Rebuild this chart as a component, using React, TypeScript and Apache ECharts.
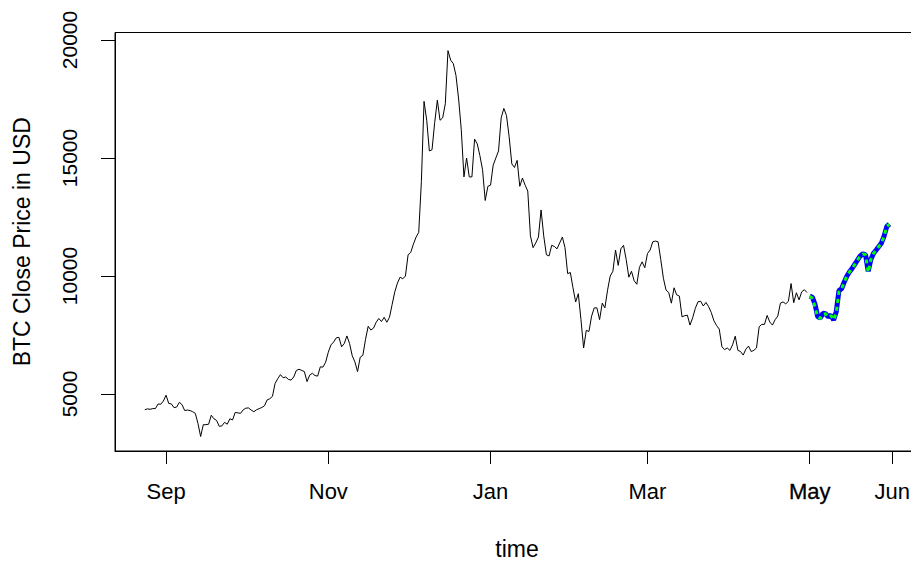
import React, { useEffect, useRef } from "react";
import * as echarts from "echarts";

// Daily BTC close prices (USD), starting 24 Aug 2017
const aug2017 = [4334, 4371, 4352, 4382, 4382, 4579, 4565, 4703];
const sep2017 = [4950, 4600, 4580, 4420, 4450, 4650, 4550, 4300, 4320, 4300, 4250, 4180, 3750, 3200, 3700, 3700, 3720, 4100, 3950, 3880, 3630, 3650, 3800, 3720, 3950, 3900, 4220, 4200, 4180, 4330];
const oct2017 = [4400, 4410, 4320, 4250, 4330, 4380, 4430, 4500, 4750, 4800, 4900, 5450, 5650, 5820, 5690, 5720, 5620, 5590, 5720, 6000, 6050, 6000, 5950, 5526, 5800, 5880, 5780, 5760, 6150, 6140, 6350];
const nov2017 = [6770, 7080, 7200, 7380, 7400, 7000, 7140, 7460, 7140, 6620, 6360, 5950, 6560, 6640, 7320, 7870, 7710, 7790, 8040, 8200, 8070, 8250, 8040, 8250, 8790, 9330, 9700, 9950, 9880, 10000];
const dec2017 = [10900, 11000, 11350, 11650, 11850, 14000, 17400, 16600, 15300, 15350, 16500, 17450, 16600, 16700, 17300, 19550, 19150, 19000, 18500, 17500, 16200, 14200, 15000, 14200, 14200, 15800, 15600, 15100, 14500, 13200, 13800];
const jan2018 = [13850, 14700, 15000, 15300, 16700, 17100, 16800, 15900, 14750, 14600, 14900, 13800, 14150, 13850, 13600, 11700, 11200, 11400, 11650, 12800, 11700, 10900, 10850, 11300, 11250, 11150, 11400, 11650, 11200, 10100, 10150];
const feb2018 = [9500, 8900, 9250, 8150, 6950, 7700, 7650, 8300, 8650, 8650, 8150, 8850, 8650, 9400, 10000, 10200, 11100, 10450, 11150, 11300, 10700, 9950, 10200, 9800, 9650, 10370, 10600, 10350];
const mar2018 = [10950, 11100, 11450, 11480, 11450, 10700, 9900, 9400, 9300, 8850, 9500, 9200, 9150, 8270, 8320, 8340, 7920, 8230, 8630, 8910, 8930, 8730, 8880, 8700, 8450, 8100, 7900, 7750, 7000, 6880, 6950];
const apr2018 = [6850, 7080, 7450, 6850, 6800, 6650, 6900, 7030, 6800, 6850, 6950, 7850, 7950, 7950, 8330, 8050, 7920, 8150, 8300, 8850, 8900, 8820, 8930, 9680, 8870, 9290, 8990, 9330, 9420, 9300];

// May 2018 (two overlaid series)
const mayBlue = [9150, 9100, 8800, 8280, 8220, 8420, 8400, 8270, 8340, 8140, 8500, 9380, 9460, 9750, 10000, 10180, 10330, 10500, 10680, 10850, 10940, 10900, 10200, 10700, 10960, 11100, 11250, 11400, 11700, 12100, 12200];
const mayGreen = [9150, 9050, 8700, 8250, 8200, 8380, 8400, 8250, 8320, 8140, 8450, 9330, 9460, 9750, 10000, 10180, 10330, 10500, 10680, 10850, 10940, 10900, 10150, 10700, 10960, 11100, 11250, 11400, 11700, 12100, 12200];

// Axis ticks (day index from 24 Aug 2017)
const xTickDays = [8, 69, 130, 189, 250, 281];
const xTickLabels = ["Sep", "Nov", "Jan", "Mar", "May", "Jun"];
const yTicks = [5000, 10000, 15000, 20000];

const closeUSD = [
  ...aug2017, ...sep2017, ...oct2017, ...nov2017, ...dec2017,
  ...jan2018, ...feb2018, ...mar2018, ...apr2018,
];

export default function App() {
  const ref = useRef<HTMLDivElement>(null);
  useEffect(() => {
    if (!ref.current) return;
    const chart = echarts.init(ref.current, null, { renderer: "svg" });
    const font = "Liberation Sans, Arial, sans-serif";
    const blackData = closeUSD.map((v, i) => [i, v]);
    const offset = closeUSD.length;
    const blueData = mayBlue.map((v, i) => [offset + i, v]);
    const greenData = mayGreen.map((v, i) => [offset + i, v]);
    chart.setOption({
      animation: false,
      backgroundColor: "#ffffff",
      grid: {
        left: 115,
        top: 32.5,
        width: 804,
        height: 418.5,
        show: true,
        borderColor: "#000",
        borderWidth: 1,
        backgroundColor: "transparent",
        containLabel: false,
        outerBoundsMode: "none",
      },
      xAxis: {
        type: "value",
        min: -11.2,
        max: 291.1,
        splitLine: { show: false },
        axisLine: { show: true, onZero: false, lineStyle: { color: "#000", width: 1 } },
        axisTick: {
          show: true,
          customValues: xTickDays,
          length: 13,
          lineStyle: { color: "#000", width: 1 },
        },
        axisLabel: {
          show: true,
          customValues: xTickDays,
          margin: 29,
          color: "#000",
          fontFamily: font,
          fontSize: 22,
          formatter: (v: number) => {
            const idx = xTickDays.indexOf(Math.round(v));
            const s = idx >= 0 ? xTickLabels[idx] : "";
            return s === "May" ? "{b|May}" : s;
          },
          rich: {
            b: {
              fontFamily: font,
              fontSize: 22,
              color: "#000",
              textBorderColor: "#000",
              textBorderWidth: 0.3,
            },
          },
        },
        name: "time",
        nameLocation: "middle",
        nameGap: 86,
        nameTextStyle: { color: "#000", fontFamily: font, fontSize: 23 },
      },
      yAxis: {
        type: "value",
        min: 2585,
        max: 20318,
        splitLine: { show: false },
        axisLine: { show: true, onZero: false, lineStyle: { color: "#000", width: 1 } },
        axisTick: {
          show: true,
          customValues: yTicks,
          length: 14,
          lineStyle: { color: "#000", width: 1 },
        },
        axisLabel: {
          show: true,
          customValues: yTicks,
          rotate: 90,
          margin: 35,
          color: "#000",
          fontFamily: font,
          fontSize: 21,
          formatter: (v: number) => String(Math.round(v)),
        },
        name: "BTC Close Price in USD",
        nameLocation: "middle",
        nameRotate: 90,
        nameGap: 82,
        nameTextStyle: { color: "#000", fontFamily: font, fontSize: 23 },
      },
      series: [
        {
          type: "line",
          data: blackData,
          showSymbol: false,
          silent: true,
          lineStyle: { color: "#000", width: 1 },
          z: 2,
        },
        {
          type: "line",
          data: blueData,
          showSymbol: false,
          silent: true,
          lineStyle: { color: "#0000FF", width: 5 },
          z: 3,
        },
        {
          type: "line",
          data: greenData,
          showSymbol: false,
          silent: true,
          lineStyle: { color: "#00FF00", width: 3, type: [4, 4] },
          z: 4,
        },
      ],
    });
    return () => chart.dispose();
  }, []);
  return (
    <div
      ref={ref}
      style={{ position: "fixed", left: 0, top: 0, width: 911, height: 562, background: "#fff" }}
    />
  );
}
